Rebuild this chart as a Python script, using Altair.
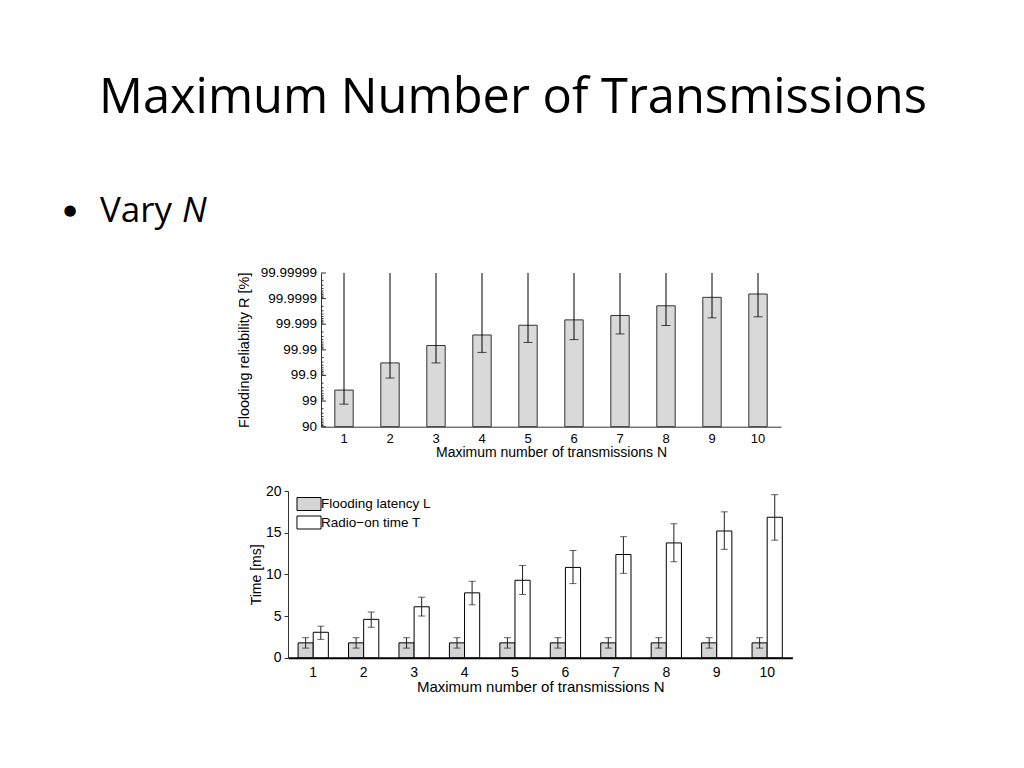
import altair as alt
import pandas as pd
import numpy as np

# ---------------- data ----------------
slide_title = "Maximum Number of Transmissions"
bullet_char = "\u25cf"
bullet_word = "Vary"
bullet_var = "N"

N = list(range(1, 11))

# reliability expressed as "number of nines" (90% = 1, 99% = 2, 99.9% = 3, ...)
rel_nines = [2.43, 3.49, 4.17, 4.58, 4.96, 5.17, 5.34, 5.72, 6.05, 6.18]
rel_lo_nines = [1.88, 2.90, 3.49, 3.90, 4.29, 4.40, 4.62, 4.95, 5.25, 5.29]
rel_hi_nines = [7.0, 7.0, 7.0, 7.0, 7.0, 7.0, 7.0, 7.0, 7.0, 7.0]  # whiskers leave the plot
rel_tick_values = [1, 2, 3, 4, 5, 6, 7]
rel_tick_labels = ["90", "99", "99.9", "99.99", "99.999", "99.9999", "99.99999"]

series_names = ["Flooding latency L", "Radio\u2212on time T"]
lat_mean = [1.78, 1.78, 1.78, 1.78, 1.78, 1.78, 1.78, 1.78, 1.78, 1.78]
lat_lo = [1.15, 1.15, 1.15, 1.15, 1.15, 1.15, 1.15, 1.15, 1.15, 1.15]
lat_hi = [2.40, 2.40, 2.40, 2.40, 2.40, 2.40, 2.40, 2.40, 2.40, 2.40]
radio_mean = [3.05, 4.60, 6.11, 7.78, 9.29, 10.83, 12.38, 13.77, 15.20, 16.85]
radio_lo = [2.20, 3.65, 5.00, 6.35, 7.58, 8.89, 10.12, 11.51, 13.00, 14.10]
radio_hi = [3.78, 5.48, 7.26, 9.17, 11.07, 12.86, 14.52, 16.07, 17.50, 19.56]
time_ticks = [0, 5, 10, 15, 20]

x_title = "Maximum number of transmissions N"
top_y_title = "Flooding reliability R [%]"
bot_y_title = "Time [ms]"

FONT = "Liberation Sans"
SLIDE_FONT = "Open Sans"

HDR_H = 234
GAP = 24

# ---------------- header ----------------
hdr = alt.Chart(pd.DataFrame({"t": [0]})).properties(width=1008, height=HDR_H)
h_title = hdr.mark_text(text=slide_title, font=SLIDE_FONT, fontSize=48.8, align="center",
                        baseline="alphabetic", color="black").encode(x=alt.value(505), y=alt.value(105.3))
h_bullet = hdr.mark_text(text=bullet_char, font="DejaVu Sans", fontSize=15, align="center",
                         baseline="middle", color="black").encode(x=alt.value(62), y=alt.value(202))
h_word = hdr.mark_text(text=bullet_word, font=SLIDE_FONT, fontSize=35, align="left",
                       baseline="alphabetic", color="black").encode(x=alt.value(92), y=alt.value(213.7))
h_var = hdr.mark_text(text=bullet_var, font=SLIDE_FONT, fontSize=35, fontStyle="italic", align="left",
                      baseline="alphabetic", color="black").encode(x=alt.value(174), y=alt.value(213.7))
header = alt.layer(h_title, h_bullet, h_word, h_var)

# ---------------- top chart ----------------
top_df = pd.DataFrame({"N": N, "R": rel_nines, "lo": rel_lo_nines, "hi": rel_hi_nines})
ytop_scale = alt.Scale(domain=[1, 7], nice=False, zero=False)
xtop = alt.X("N:O", title=x_title,
             scale=alt.Scale(paddingInner=0.6, paddingOuter=0.3),
             axis=alt.Axis(labelAngle=0, ticks=False, labelPadding=6, titlePadding=0,
                           labelFontSize=13, titleFontSize=14, domainColor="#333"))
ytop_axis = alt.Axis(values=rel_tick_values, labels=False, ticks=False, grid=False,
                     titleFontSize=14.5, titlePadding=70, domainColor="#333")

tbase = alt.Chart(top_df)
t_bars = tbase.mark_bar(fill="#d9d9d9", stroke="#333", strokeWidth=1).encode(
    x=xtop, y=alt.Y("R:Q", scale=ytop_scale, axis=ytop_axis, title=top_y_title), y2=alt.datum(1))
t_err = tbase.mark_rule(color="black", strokeWidth=1).encode(x="N:O", y="lo:Q", y2="hi:Q")
t_cap = tbase.mark_tick(color="black", thickness=1, size=9).encode(x="N:O", y="lo:Q")

major_df = pd.DataFrame({"v": rel_tick_values, "lab": rel_tick_labels})
minor_vals = [k + 1 - np.log10(m) for k in range(1, 7) for m in range(2, 10)]
minor_df = pd.DataFrame({"v": minor_vals})
t_major = alt.Chart(major_df).mark_rule(color="#333").encode(
    x=alt.value(0), x2=alt.value(5), y="v:Q")
t_minor = alt.Chart(minor_df).mark_rule(color="#333").encode(
    x=alt.value(0), x2=alt.value(2.5), y="v:Q")
t_labels = alt.Chart(major_df).mark_text(font=FONT, fontSize=13.5, align="right", baseline="middle",
                                         color="black").encode(
    x=alt.value(-4), y="v:Q", text="lab:N")

TOP_H = 153.7
top_chart = alt.layer(t_bars, t_err, t_cap, t_major, t_minor, t_labels).properties(width=460, height=TOP_H)

# ---------------- bottom chart ----------------
rows = []
for i, n in enumerate(N):
    rows.append({"N": n, "s": series_names[0], "m": lat_mean[i], "lo": lat_lo[i], "hi": lat_hi[i]})
    rows.append({"N": n, "s": series_names[1], "m": radio_mean[i], "lo": radio_lo[i], "hi": radio_hi[i]})
bot_df = pd.DataFrame(rows)

xbot = alt.X("N:O", title=x_title,
             scale=alt.Scale(paddingInner=0.4, paddingOuter=0.2),
             axis=alt.Axis(labelAngle=0, ticks=False, labelPadding=8, titlePadding=0,
                           labelFontSize=14, titleFontSize=15, domainColor="black", domainWidth=2))
ybot_scale = alt.Scale(domain=[0, 20], nice=False)
ybot_axis = alt.Axis(values=time_ticks, grid=False, tickSize=4, tickColor="#333",
                     labelFontSize=14, titleFontSize=14, labelPadding=3, titlePadding=2,
                     domainColor="#333")
xoff = alt.XOffset("s:N", sort=series_names)

bbase = alt.Chart(bot_df)
b_bars = bbase.mark_bar(stroke="black", strokeWidth=1).encode(
    x=xbot, xOffset=xoff,
    y=alt.Y("m:Q", scale=ybot_scale, axis=ybot_axis, title=bot_y_title),
    fill=alt.Fill("s:N", sort=series_names,
                  scale=alt.Scale(domain=series_names, range=["#d4d4d4", "#ffffff"]),
                  legend=alt.Legend(title=None, orient="none", legendX=14, legendY=6,
                                    symbolType="M-1.85,-1H1.85V1H-1.85Z", symbolSize=169,
                                    symbolStrokeColor="black", symbolStrokeWidth=1,
                                    labelFontSize=13.5, labelFont=FONT, labelOffset=5,
                                    rowPadding=0.5, labelColor="black")))
b_err = bbase.mark_rule(color="#222", strokeWidth=1).encode(x="N:O", xOffset=xoff, y="lo:Q", y2="hi:Q")
b_cap_lo = bbase.mark_tick(color="#222", thickness=1, size=7).encode(x="N:O", xOffset=xoff, y="lo:Q")
b_cap_hi = bbase.mark_tick(color="#222", thickness=1, size=7).encode(x="N:O", xOffset=xoff, y="hi:Q")

BOT_H = 166.7
bottom_chart = alt.layer(b_bars, b_err, b_cap_lo, b_cap_hi).properties(width=504.4, height=BOT_H)

# ---------------- layout ----------------
def spacer(w, h):
    return alt.Chart(pd.DataFrame({"t": [0]})).mark_point(opacity=0, size=1).encode(
        x=alt.value(w / 2), y=alt.value(h / 2)).properties(width=w, height=h)

row_top = alt.hconcat(spacer(312.7, TOP_H), top_chart, spacing=0, bounds="flush")
row_bot = alt.hconcat(spacer(279.3, BOT_H), bottom_chart, spacing=0, bounds="flush").resolve_legend(fill="independent")

chart = alt.vconcat(header, row_top, row_bot, spacing=GAP).resolve_legend(
    fill="independent"
).properties(
    padding=0, background="white"
).configure_view(strokeWidth=0).configure_axis(
    labelFont=FONT, titleFont=FONT, labelColor="black", titleColor="black",
    titleFontWeight="normal"
)

chart.save("out.html", embed_options={"renderer": "svg", "actions": False})
